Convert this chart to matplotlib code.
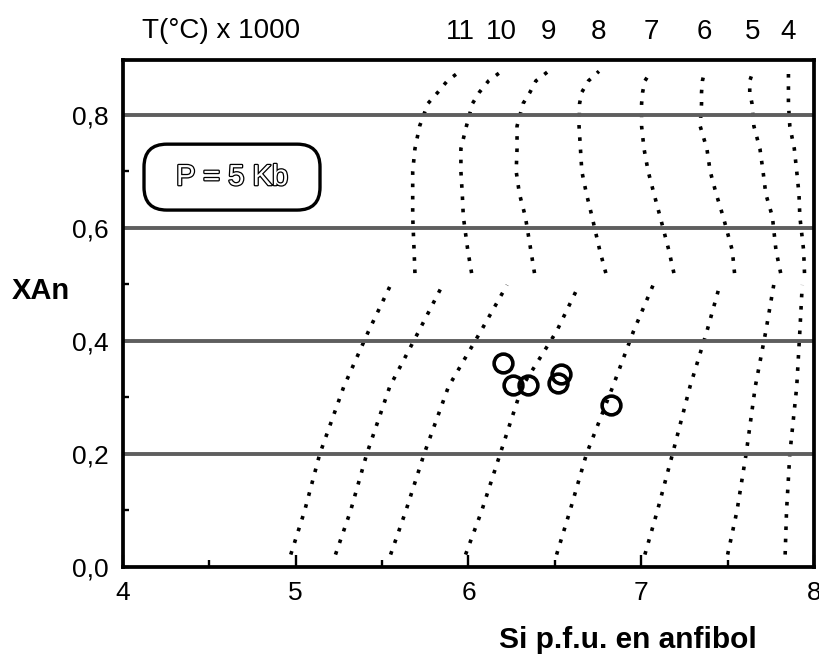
import matplotlib
matplotlib.use("Agg")
import matplotlib.pyplot as plt
import matplotlib.patheffects as pe
from matplotlib.patches import FancyBboxPatch
from matplotlib.ticker import FixedLocator, FixedFormatter
import matplotlib.transforms as mtransforms

plt.rcParams['font.family'] = ['Liberation Sans', 'DejaVu Sans']

# ---- data -------------------------------------------------------------
isotherm_labels = ['11', '10', '9', '8', '7', '6', '5', '4']

# lower branch (XAn 0 - 0.5)
xan_low = [0.022, 0.099, 0.200, 0.319, 0.417, 0.499]
si_low = [
    [4.971, 5.051, 5.139, 5.278, 5.421, 5.549],
    [5.230, 5.317, 5.411, 5.544, 5.712, 5.850],
    [5.549, 5.637, 5.743, 5.884, 6.071, 6.223],
    [5.983, 6.076, 6.183, 6.310, 6.510, 6.640],
    [6.510, 6.587, 6.683, 6.835, 6.955, 7.069],
    [7.021, 7.093, 7.181, 7.282, 7.380, 7.455],
    [7.500, 7.554, 7.607, 7.660, 7.721, 7.767],
    [7.833, 7.841, 7.860, 7.900, 7.918, 7.932],
]

# upper branch (XAn 0.52 - 0.88)
xan_high = [0.52, 0.56, 0.62, 0.66, 0.70, 0.74, 0.78, 0.82, 0.84, 0.86, 0.877]
si_high = [
    [5.690, 5.685, 5.677, 5.677, 5.677, 5.690, 5.717, 5.765, 5.823, 5.877, 5.951],
    [6.018, 5.996, 5.970, 5.964, 5.956, 5.956, 5.988, 6.023, 6.063, 6.116, 6.191],
    [6.382, 6.361, 6.329, 6.295, 6.276, 6.281, 6.281, 6.316, 6.356, 6.390, 6.462],
    [6.795, 6.760, 6.715, 6.683, 6.656, 6.648, 6.640, 6.643, 6.656, 6.694, 6.755],
    [7.189, 7.160, 7.109, 7.074, 7.040, 7.016, 7.002, 7.002, 7.008, 7.021, 7.056],
    [7.540, 7.527, 7.474, 7.434, 7.399, 7.380, 7.341, 7.349, 7.349, 7.354, 7.367],
    [7.807, 7.780, 7.759, 7.721, 7.705, 7.687, 7.652, 7.641, 7.628, 7.628, 7.647],
    [7.945, 7.940, 7.918, 7.913, 7.900, 7.886, 7.860, 7.852, 7.852, 7.852, 7.852],
]

# samples
si_samples = [6.198, 6.259, 6.346, 6.535, 6.516, 6.825]
xan_samples = [0.361, 0.322, 0.322, 0.342, 0.325, 0.287]

xticks = [4, 5, 6, 7, 8]
xtick_labels = ['4', '5', '6', '7', '8']
yticks = [0.0, 0.2, 0.4, 0.6, 0.8]
ytick_labels = ['0,0', '0,2', '0,4', '0,6', '0,8']

# ---- figure -----------------------------------------------------------
W, H = 820, 659
fig = plt.figure(figsize=(W / 100, H / 100), dpi=100)
ax = fig.add_axes([123 / W, 1 - 567 / H, (814 - 123) / W, (567 - 60) / H])

ax.set_xlim(4, 8)
ax.set_ylim(0, 0.897)

# grid lines
for yv in yticks[1:]:
    ax.axhline(yv, color='#5e5e5e', lw=2.8, zorder=3)

# isotherms
for i in range(len(isotherm_labels)):
    ax.plot(si_low[i], xan_low, color='black', lw=2.6,
            linestyle=(0, (1, 2.4)), zorder=2)
    ax.plot(si_high[i], xan_high, color='black', lw=2.6,
            linestyle=(0, (1, 2.4)), zorder=2)

# samples
ax.plot(si_samples, xan_samples, linestyle='none', marker='o', ms=13.5,
        mfc='none', mec='black', mew=2.6, zorder=4)

# top labels
trans = mtransforms.blended_transform_factory(ax.transData, ax.transAxes)
for i, lab in enumerate(isotherm_labels):
    ax.text(si_high[i][-1], 1.055, lab, transform=trans, ha='center',
            va='center', fontsize=20)
ax.text(0.0275, 1.057, 'T(°C) x 1000', transform=ax.transAxes, ha='left',
        va='center', fontsize=20)

# pressure box
axw, axh = 814 - 123, 567 - 60
box = FancyBboxPatch((0.0304, 0.704), 0.2547, 0.130,
                     boxstyle='round,pad=0,rounding_size=0.033',
                     mutation_aspect=axw / axh,
                     transform=ax.transAxes, facecolor='white',
                     edgecolor='black', lw=2.4, zorder=5)
ax.add_patch(box)
ax.text(0.0304 + 0.2547 / 2, 0.704 + 0.065, 'P = 5 Kb', transform=ax.transAxes,
        ha='center', va='center', fontsize=21, color='white', zorder=6,
        path_effects=[pe.withStroke(linewidth=1.8, foreground='black')])

# axes styling
for sp in ax.spines.values():
    sp.set_linewidth(2.7)
    sp.set_zorder(6)

ax.xaxis.set_major_locator(FixedLocator(xticks))
ax.xaxis.set_major_formatter(FixedFormatter(xtick_labels))
ax.xaxis.set_minor_locator(FixedLocator([4.5, 5.5, 6.5, 7.5]))
ax.yaxis.set_major_locator(FixedLocator(yticks))
ax.yaxis.set_major_formatter(FixedFormatter(ytick_labels))
ax.yaxis.set_minor_locator(FixedLocator([0.1, 0.3, 0.5, 0.7]))

ax.tick_params(axis='x', which='major', direction='in', length=8.5, width=1.7,
               labelsize=19, pad=10)
ax.tick_params(axis='x', which='minor', direction='in', length=5, width=1.7)
ax.tick_params(axis='y', which='both', direction='in', length=4.5, width=1.7,
               labelsize=19, pad=10)

ax.set_xlabel('Si p.f.u. en anfibol', fontsize=21.5, fontweight='bold',
              va='center', ha='center')
ax.xaxis.set_label_coords(0.73, -0.144)
ax.set_ylabel('XAn', fontsize=21, fontweight='bold', rotation=0,
              va='center', ha='center')
ax.yaxis.set_label_coords(-0.119, 0.544)

fig.savefig('out.png', dpi=100)
